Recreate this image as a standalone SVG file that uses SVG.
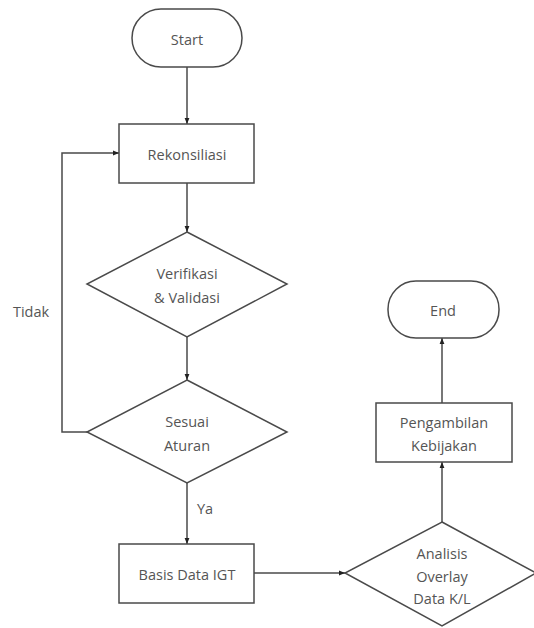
<svg xmlns="http://www.w3.org/2000/svg" width="534" height="628" viewBox="0 0 534 628">
<style>
.shape{fill:#fff;stroke:#4a4a4a;stroke-width:1.5}
.conn{fill:none;stroke:#4a4a4a;stroke-width:1.5}
text{font-family:"Open Sans","Noto Sans",sans-serif;font-size:14.5px;fill:#555;text-anchor:middle;dominant-baseline:central}
</style>
<defs>
<marker id="arr" viewBox="0 0 10 10" refX="10" refY="5" markerWidth="6" markerHeight="6" orient="auto" markerUnits="userSpaceOnUse">
<path d="M0,1 L10,5 L0,9 z" fill="#222"/>
</marker>
</defs>
<rect width="534" height="628" fill="#fff"/>
<g id="connectors">
<line class="conn" x1="187" y1="67" x2="187" y2="124" marker-end="url(#arr)"/>
<line class="conn" x1="187" y1="183" x2="187" y2="232" marker-end="url(#arr)"/>
<line class="conn" x1="187" y1="337" x2="187" y2="380" marker-end="url(#arr)"/>
<polyline class="conn" points="87,432 62,432 62,153 119,153" marker-end="url(#arr)"/>
<line class="conn" x1="187" y1="483" x2="187" y2="544" marker-end="url(#arr)"/>
<line class="conn" x1="254" y1="573" x2="345" y2="573" marker-end="url(#arr)"/>
<line class="conn" x1="442" y1="522" x2="442" y2="462" marker-end="url(#arr)"/>
<line class="conn" x1="442" y1="403" x2="442" y2="338" marker-end="url(#arr)"/>
<text x="31" y="311">Tidak</text>
<text x="205" y="508">Ya</text>
</g>
<g id="start">
<rect class="shape" x="132" y="9" width="110" height="58" rx="29" ry="29"/>
<text x="187" y="39">Start</text>
</g>
<g id="rekonsiliasi">
<rect class="shape" x="119" y="124" width="135" height="59"/>
<text x="187" y="154">Rekonsiliasi</text>
</g>
<g id="verifikasi">
<polygon class="shape" points="187,232 287,284 187,337 87,284"/>
<text x="187" y="273">Verifikasi</text>
<text x="187" y="297">&amp; Validasi</text>
</g>
<g id="sesuai">
<polygon class="shape" points="187,380 287,432 187,483 87,432"/>
<text x="187" y="421">Sesuai</text>
<text x="187" y="445">Aturan</text>
</g>
<g id="basis">
<rect class="shape" x="119" y="544" width="135" height="59"/>
<text x="187" y="574">Basis Data IGT</text>
</g>
<g id="analisis">
<polygon class="shape" points="442,522 536,573 442,626 345,573"/>
<text x="442" y="553">Analisis</text>
<text x="442" y="576">Overlay</text>
<text x="442" y="598">Data K/L</text>
</g>
<g id="pengambilan">
<rect class="shape" x="376" y="403" width="136" height="59"/>
<text x="444" y="422">Pengambilan</text>
<text x="444" y="445">Kebijakan</text>
</g>
<g id="end">
<rect class="shape" x="388" y="281" width="111" height="57" rx="28" ry="28"/>
<text x="443" y="310">End</text>
</g>
</svg>
